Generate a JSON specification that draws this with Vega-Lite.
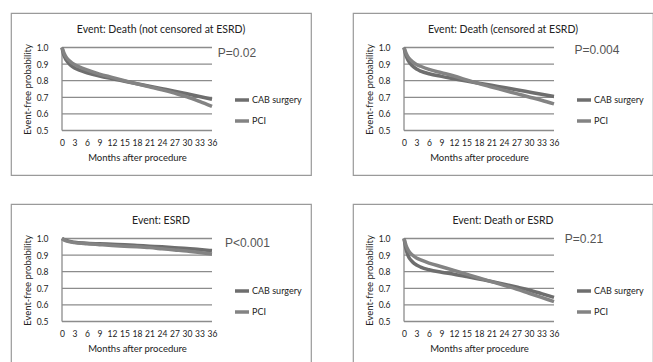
{
  "$schema": "https://vega.github.io/schema/vega-lite/v6.json",
  "background": "white",
  "padding": {"left": 10, "top": 12, "right": 0, "bottom": 0},
  "columns": 2,
  "spacing": {"row": 27, "column": 40},
  "resolve": {"scale": {"color": "independent"}, "legend": {"color": "independent"}},
  "datasets": {
    "grid": [{"v": 0.5}, {"v": 0.6}, {"v": 0.7}, {"v": 0.8}, {"v": 0.9}, {"v": 1.0}],
    "one": [{}],
    "km": [
      {"panel": "a", "group": "CAB surgery", "month": 0, "p": 1.0},
      {"panel": "a", "group": "CAB surgery", "month": 0.5, "p": 0.95},
      {"panel": "a", "group": "CAB surgery", "month": 1, "p": 0.925},
      {"panel": "a", "group": "CAB surgery", "month": 2, "p": 0.895},
      {"panel": "a", "group": "CAB surgery", "month": 3, "p": 0.877},
      {"panel": "a", "group": "CAB surgery", "month": 4, "p": 0.865},
      {"panel": "a", "group": "CAB surgery", "month": 6, "p": 0.848},
      {"panel": "a", "group": "CAB surgery", "month": 9, "p": 0.828},
      {"panel": "a", "group": "CAB surgery", "month": 12, "p": 0.812},
      {"panel": "a", "group": "CAB surgery", "month": 15, "p": 0.797},
      {"panel": "a", "group": "CAB surgery", "month": 18, "p": 0.782},
      {"panel": "a", "group": "CAB surgery", "month": 21, "p": 0.767},
      {"panel": "a", "group": "CAB surgery", "month": 24, "p": 0.752},
      {"panel": "a", "group": "CAB surgery", "month": 27, "p": 0.737},
      {"panel": "a", "group": "CAB surgery", "month": 30, "p": 0.721},
      {"panel": "a", "group": "CAB surgery", "month": 33, "p": 0.705},
      {"panel": "a", "group": "CAB surgery", "month": 36, "p": 0.688},
      {"panel": "a", "group": "PCI", "month": 0, "p": 1.0},
      {"panel": "a", "group": "PCI", "month": 0.5, "p": 0.965},
      {"panel": "a", "group": "PCI", "month": 1, "p": 0.942},
      {"panel": "a", "group": "PCI", "month": 2, "p": 0.915},
      {"panel": "a", "group": "PCI", "month": 3, "p": 0.897},
      {"panel": "a", "group": "PCI", "month": 4, "p": 0.885},
      {"panel": "a", "group": "PCI", "month": 6, "p": 0.865},
      {"panel": "a", "group": "PCI", "month": 9, "p": 0.84},
      {"panel": "a", "group": "PCI", "month": 12, "p": 0.82},
      {"panel": "a", "group": "PCI", "month": 15, "p": 0.8},
      {"panel": "a", "group": "PCI", "month": 18, "p": 0.781},
      {"panel": "a", "group": "PCI", "month": 21, "p": 0.763},
      {"panel": "a", "group": "PCI", "month": 24, "p": 0.745},
      {"panel": "a", "group": "PCI", "month": 27, "p": 0.725},
      {"panel": "a", "group": "PCI", "month": 30, "p": 0.703},
      {"panel": "a", "group": "PCI", "month": 33, "p": 0.675},
      {"panel": "a", "group": "PCI", "month": 36, "p": 0.645},

      {"panel": "b", "group": "CAB surgery", "month": 0, "p": 1.0},
      {"panel": "b", "group": "CAB surgery", "month": 0.5, "p": 0.95},
      {"panel": "b", "group": "CAB surgery", "month": 1, "p": 0.922},
      {"panel": "b", "group": "CAB surgery", "month": 2, "p": 0.89},
      {"panel": "b", "group": "CAB surgery", "month": 3, "p": 0.87},
      {"panel": "b", "group": "CAB surgery", "month": 4, "p": 0.858},
      {"panel": "b", "group": "CAB surgery", "month": 6, "p": 0.842},
      {"panel": "b", "group": "CAB surgery", "month": 9, "p": 0.826},
      {"panel": "b", "group": "CAB surgery", "month": 12, "p": 0.812},
      {"panel": "b", "group": "CAB surgery", "month": 15, "p": 0.798},
      {"panel": "b", "group": "CAB surgery", "month": 18, "p": 0.785},
      {"panel": "b", "group": "CAB surgery", "month": 21, "p": 0.772},
      {"panel": "b", "group": "CAB surgery", "month": 24, "p": 0.759},
      {"panel": "b", "group": "CAB surgery", "month": 27, "p": 0.746},
      {"panel": "b", "group": "CAB surgery", "month": 30, "p": 0.732},
      {"panel": "b", "group": "CAB surgery", "month": 33, "p": 0.718},
      {"panel": "b", "group": "CAB surgery", "month": 36, "p": 0.705},
      {"panel": "b", "group": "PCI", "month": 0, "p": 1.0},
      {"panel": "b", "group": "PCI", "month": 0.5, "p": 0.965},
      {"panel": "b", "group": "PCI", "month": 1, "p": 0.942},
      {"panel": "b", "group": "PCI", "month": 2, "p": 0.915},
      {"panel": "b", "group": "PCI", "month": 3, "p": 0.898},
      {"panel": "b", "group": "PCI", "month": 4, "p": 0.887},
      {"panel": "b", "group": "PCI", "month": 6, "p": 0.868},
      {"panel": "b", "group": "PCI", "month": 9, "p": 0.848},
      {"panel": "b", "group": "PCI", "month": 12, "p": 0.828},
      {"panel": "b", "group": "PCI", "month": 15, "p": 0.805},
      {"panel": "b", "group": "PCI", "month": 18, "p": 0.782},
      {"panel": "b", "group": "PCI", "month": 21, "p": 0.762},
      {"panel": "b", "group": "PCI", "month": 24, "p": 0.742},
      {"panel": "b", "group": "PCI", "month": 27, "p": 0.722},
      {"panel": "b", "group": "PCI", "month": 30, "p": 0.702},
      {"panel": "b", "group": "PCI", "month": 33, "p": 0.682},
      {"panel": "b", "group": "PCI", "month": 36, "p": 0.66},

      {"panel": "c", "group": "CAB surgery", "month": 0, "p": 1.0},
      {"panel": "c", "group": "CAB surgery", "month": 1, "p": 0.988},
      {"panel": "c", "group": "CAB surgery", "month": 3, "p": 0.978},
      {"panel": "c", "group": "CAB surgery", "month": 6, "p": 0.972},
      {"panel": "c", "group": "CAB surgery", "month": 9, "p": 0.968},
      {"panel": "c", "group": "CAB surgery", "month": 12, "p": 0.965},
      {"panel": "c", "group": "CAB surgery", "month": 15, "p": 0.962},
      {"panel": "c", "group": "CAB surgery", "month": 18, "p": 0.958},
      {"panel": "c", "group": "CAB surgery", "month": 21, "p": 0.954},
      {"panel": "c", "group": "CAB surgery", "month": 24, "p": 0.95},
      {"panel": "c", "group": "CAB surgery", "month": 27, "p": 0.945},
      {"panel": "c", "group": "CAB surgery", "month": 30, "p": 0.94},
      {"panel": "c", "group": "CAB surgery", "month": 33, "p": 0.933},
      {"panel": "c", "group": "CAB surgery", "month": 36, "p": 0.927},
      {"panel": "c", "group": "PCI", "month": 0, "p": 1.0},
      {"panel": "c", "group": "PCI", "month": 1, "p": 0.985},
      {"panel": "c", "group": "PCI", "month": 3, "p": 0.975},
      {"panel": "c", "group": "PCI", "month": 6, "p": 0.968},
      {"panel": "c", "group": "PCI", "month": 9, "p": 0.963},
      {"panel": "c", "group": "PCI", "month": 12, "p": 0.958},
      {"panel": "c", "group": "PCI", "month": 15, "p": 0.954},
      {"panel": "c", "group": "PCI", "month": 18, "p": 0.95},
      {"panel": "c", "group": "PCI", "month": 21, "p": 0.945},
      {"panel": "c", "group": "PCI", "month": 24, "p": 0.938},
      {"panel": "c", "group": "PCI", "month": 27, "p": 0.931},
      {"panel": "c", "group": "PCI", "month": 30, "p": 0.924},
      {"panel": "c", "group": "PCI", "month": 33, "p": 0.915},
      {"panel": "c", "group": "PCI", "month": 36, "p": 0.906},

      {"panel": "d", "group": "CAB surgery", "month": 0, "p": 1.0},
      {"panel": "d", "group": "CAB surgery", "month": 0.5, "p": 0.935},
      {"panel": "d", "group": "CAB surgery", "month": 1, "p": 0.895},
      {"panel": "d", "group": "CAB surgery", "month": 2, "p": 0.86},
      {"panel": "d", "group": "CAB surgery", "month": 3, "p": 0.84},
      {"panel": "d", "group": "CAB surgery", "month": 4, "p": 0.828},
      {"panel": "d", "group": "CAB surgery", "month": 6, "p": 0.812},
      {"panel": "d", "group": "CAB surgery", "month": 9, "p": 0.797},
      {"panel": "d", "group": "CAB surgery", "month": 12, "p": 0.785},
      {"panel": "d", "group": "CAB surgery", "month": 15, "p": 0.771},
      {"panel": "d", "group": "CAB surgery", "month": 18, "p": 0.756},
      {"panel": "d", "group": "CAB surgery", "month": 21, "p": 0.741},
      {"panel": "d", "group": "CAB surgery", "month": 24, "p": 0.725},
      {"panel": "d", "group": "CAB surgery", "month": 27, "p": 0.708},
      {"panel": "d", "group": "CAB surgery", "month": 30, "p": 0.69},
      {"panel": "d", "group": "CAB surgery", "month": 33, "p": 0.668},
      {"panel": "d", "group": "CAB surgery", "month": 36, "p": 0.645},
      {"panel": "d", "group": "PCI", "month": 0, "p": 1.0},
      {"panel": "d", "group": "PCI", "month": 0.5, "p": 0.958},
      {"panel": "d", "group": "PCI", "month": 1, "p": 0.93},
      {"panel": "d", "group": "PCI", "month": 2, "p": 0.9},
      {"panel": "d", "group": "PCI", "month": 3, "p": 0.882},
      {"panel": "d", "group": "PCI", "month": 4, "p": 0.871},
      {"panel": "d", "group": "PCI", "month": 6, "p": 0.852},
      {"panel": "d", "group": "PCI", "month": 9, "p": 0.83},
      {"panel": "d", "group": "PCI", "month": 12, "p": 0.808},
      {"panel": "d", "group": "PCI", "month": 15, "p": 0.785},
      {"panel": "d", "group": "PCI", "month": 18, "p": 0.762},
      {"panel": "d", "group": "PCI", "month": 21, "p": 0.74},
      {"panel": "d", "group": "PCI", "month": 24, "p": 0.718},
      {"panel": "d", "group": "PCI", "month": 27, "p": 0.695},
      {"panel": "d", "group": "PCI", "month": 30, "p": 0.67},
      {"panel": "d", "group": "PCI", "month": 33, "p": 0.645},
      {"panel": "d", "group": "PCI", "month": 36, "p": 0.62}
    ]
  },
  "concat": [
    {
      "width": 300, "height": 162,
      "title": "Event: Death (not censored at ESRD)",
      "layer": [
        {
          "data": {"name": "grid"},
          "mark": {"type": "rule", "color": "#8c8c8c", "strokeWidth": 1.3},
          "encoding": {
            "y": {"field": "v", "type": "quantitative", "scale": {"domain": [0.2319, 1.2078], "nice": false, "zero": false},
                  "axis": {"title": "Event-free probability", "values": [0.5, 0.6, 0.7, 0.8, 0.9, 1.0], "tickCount": 20, "format": ".1f", "labelOverlap": false, "offset": -51, "titleY": 76}},
            "x": {"datum": 0, "type": "quantitative", "scale": {"domain": [-12.24, 59.76], "nice": false, "zero": false},
                  "axis": {"title": "Months after procedure", "values": [0, 3, 6, 9, 12, 15, 18, 21, 24, 27, 30, 33, 36], "tickCount": 30, "labelOverlap": false, "offset": -44.5, "titleX": 126}},
            "x2": {"datum": 36}
          }
        },
        {
          "data": {"name": "one"},
          "mark": {"type": "rule", "color": "#8c8c8c", "strokeWidth": 1.3},
          "encoding": {"x": {"datum": 0, "type": "quantitative"}, "y": {"datum": 0.5, "type": "quantitative"}, "y2": {"datum": 1.0}}
        },
        {
          "data": {"name": "km"},
          "transform": [{"filter": "datum.panel === 'a'"}],
          "mark": {"type": "line", "interpolate": "monotone", "strokeWidth": 3.5},
          "encoding": {
            "x": {"field": "month", "type": "quantitative"},
            "y": {"field": "p", "type": "quantitative"},
            "color": {"field": "group", "type": "nominal", "title": null,
                      "scale": {"domain": ["CAB surgery", "PCI"], "range": ["#6e6e6e", "#838383"]}}
          }
        },
        {
          "data": {"name": "one"},
          "mark": {"type": "text", "align": "left", "baseline": "middle", "font": "Liberation Sans", "fontSize": 12, "color": "#555555"},
          "encoding": {"x": {"datum": 37.4, "type": "quantitative"}, "y": {"datum": 0.964, "type": "quantitative"}, "text": {"value": "P=0.02"}}
        }
      ]
    },
    {
      "width": 300, "height": 162,
      "title": "Event: Death (censored at ESRD)",
      "layer": [
        {
          "data": {"name": "grid"},
          "mark": {"type": "rule", "color": "#8c8c8c", "strokeWidth": 1.3},
          "encoding": {
            "y": {"field": "v", "type": "quantitative", "scale": {"domain": [0.2319, 1.2078], "nice": false, "zero": false},
                  "axis": {"title": "Event-free probability", "values": [0.5, 0.6, 0.7, 0.8, 0.9, 1.0], "tickCount": 20, "format": ".1f", "labelOverlap": false, "offset": -51, "titleY": 76}},
            "x": {"datum": 0, "type": "quantitative", "scale": {"domain": [-12.24, 59.76], "nice": false, "zero": false},
                  "axis": {"title": "Months after procedure", "values": [0, 3, 6, 9, 12, 15, 18, 21, 24, 27, 30, 33, 36], "tickCount": 30, "labelOverlap": false, "offset": -44.5, "titleX": 126}},
            "x2": {"datum": 36}
          }
        },
        {
          "data": {"name": "one"},
          "mark": {"type": "rule", "color": "#8c8c8c", "strokeWidth": 1.3},
          "encoding": {"x": {"datum": 0, "type": "quantitative"}, "y": {"datum": 0.5, "type": "quantitative"}, "y2": {"datum": 1.0}}
        },
        {
          "data": {"name": "km"},
          "transform": [{"filter": "datum.panel === 'b'"}],
          "mark": {"type": "line", "interpolate": "monotone", "strokeWidth": 3.5},
          "encoding": {
            "x": {"field": "month", "type": "quantitative"},
            "y": {"field": "p", "type": "quantitative"},
            "color": {"field": "group", "type": "nominal", "title": null,
                      "scale": {"domain": ["CAB surgery", "PCI"], "range": ["#6e6e6e", "#838383"]}}
          }
        },
        {
          "data": {"name": "one"},
          "mark": {"type": "text", "align": "left", "baseline": "middle", "font": "Liberation Sans", "fontSize": 12, "color": "#555555"},
          "encoding": {"x": {"datum": 40.9, "type": "quantitative"}, "y": {"datum": 0.986, "type": "quantitative"}, "text": {"value": "P=0.004"}}
        }
      ]
    },
    {
      "width": 300, "height": 162,
      "title": "Event: ESRD",
      "layer": [
        {
          "data": {"name": "grid"},
          "mark": {"type": "rule", "color": "#8c8c8c", "strokeWidth": 1.3},
          "encoding": {
            "y": {"field": "v", "type": "quantitative", "scale": {"domain": [0.2319, 1.2078], "nice": false, "zero": false},
                  "axis": {"title": "Event-free probability", "values": [0.5, 0.6, 0.7, 0.8, 0.9, 1.0], "tickCount": 20, "format": ".1f", "labelOverlap": false, "offset": -51, "titleY": 76}},
            "x": {"datum": 0, "type": "quantitative", "scale": {"domain": [-12.24, 59.76], "nice": false, "zero": false},
                  "axis": {"title": "Months after procedure", "values": [0, 3, 6, 9, 12, 15, 18, 21, 24, 27, 30, 33, 36], "tickCount": 30, "labelOverlap": false, "offset": -44.5, "titleX": 126}},
            "x2": {"datum": 36}
          }
        },
        {
          "data": {"name": "one"},
          "mark": {"type": "rule", "color": "#8c8c8c", "strokeWidth": 1.3},
          "encoding": {"x": {"datum": 0, "type": "quantitative"}, "y": {"datum": 0.5, "type": "quantitative"}, "y2": {"datum": 1.0}}
        },
        {
          "data": {"name": "km"},
          "transform": [{"filter": "datum.panel === 'c'"}],
          "mark": {"type": "line", "interpolate": "monotone", "strokeWidth": 3.5},
          "encoding": {
            "x": {"field": "month", "type": "quantitative"},
            "y": {"field": "p", "type": "quantitative"},
            "color": {"field": "group", "type": "nominal", "title": null,
                      "scale": {"domain": ["CAB surgery", "PCI"], "range": ["#6e6e6e", "#838383"]}}
          }
        },
        {
          "data": {"name": "one"},
          "mark": {"type": "text", "align": "left", "baseline": "middle", "font": "Liberation Sans", "fontSize": 12, "color": "#555555"},
          "encoding": {"x": {"datum": 39.1, "type": "quantitative"}, "y": {"datum": 0.974, "type": "quantitative"}, "text": {"value": "P<0.001"}}
        }
      ]
    },
    {
      "width": 300, "height": 162,
      "title": "Event: Death or ESRD",
      "layer": [
        {
          "data": {"name": "grid"},
          "mark": {"type": "rule", "color": "#8c8c8c", "strokeWidth": 1.3},
          "encoding": {
            "y": {"field": "v", "type": "quantitative", "scale": {"domain": [0.2319, 1.2078], "nice": false, "zero": false},
                  "axis": {"title": "Event-free probability", "values": [0.5, 0.6, 0.7, 0.8, 0.9, 1.0], "tickCount": 20, "format": ".1f", "labelOverlap": false, "offset": -51, "titleY": 76}},
            "x": {"datum": 0, "type": "quantitative", "scale": {"domain": [-12.24, 59.76], "nice": false, "zero": false},
                  "axis": {"title": "Months after procedure", "values": [0, 3, 6, 9, 12, 15, 18, 21, 24, 27, 30, 33, 36], "tickCount": 30, "labelOverlap": false, "offset": -44.5, "titleX": 126}},
            "x2": {"datum": 36}
          }
        },
        {
          "data": {"name": "one"},
          "mark": {"type": "rule", "color": "#8c8c8c", "strokeWidth": 1.3},
          "encoding": {"x": {"datum": 0, "type": "quantitative"}, "y": {"datum": 0.5, "type": "quantitative"}, "y2": {"datum": 1.0}}
        },
        {
          "data": {"name": "km"},
          "transform": [{"filter": "datum.panel === 'd'"}],
          "mark": {"type": "line", "interpolate": "monotone", "strokeWidth": 3.5},
          "encoding": {
            "x": {"field": "month", "type": "quantitative"},
            "y": {"field": "p", "type": "quantitative"},
            "color": {"field": "group", "type": "nominal", "title": null,
                      "scale": {"domain": ["CAB surgery", "PCI"], "range": ["#6e6e6e", "#838383"]}}
          }
        },
        {
          "data": {"name": "one"},
          "mark": {"type": "text", "align": "left", "baseline": "middle", "font": "Liberation Sans", "fontSize": 12, "color": "#555555"},
          "encoding": {"x": {"datum": 38.6, "type": "quantitative"}, "y": {"datum": 0.997, "type": "quantitative"}, "text": {"value": "P=0.21"}}
        }
      ]
    }
  ],
  "config": {
    "font": "Lato",
    "view": {"stroke": "#9a9a9a", "strokeWidth": 1.2},
    "title": {"font": "Lato", "fontSize": 10.5, "fontWeight": "normal", "color": "#222222", "anchor": "middle", "frame": "group", "baseline": "middle", "offset": -22},
    "axis": {
      "domain": false, "ticks": false, "grid": false,
      "labelFont": "Lato", "labelFontSize": 8.5, "labelColor": "#222222", "labelOverlap": false, "labelFlush": false,
      "titleFont": "Lato", "titleFontSize": 9.5, "titleFontWeight": "normal", "titleColor": "#222222"
    },
    "axisX": {"labelPadding": 8, "titlePadding": 5},
    "axisY": {"labelPadding": 14, "titlePadding": 4},
    "legend": {
      "orient": "none", "legendX": 222, "legendY": 78, "padding": 0,
      "symbolType": "stroke", "symbolSize": 196, "symbolStrokeWidth": 3.5,
      "labelFont": "Lato", "labelFontSize": 9, "labelColor": "#222222", "labelOffset": 1, "rowPadding": 5
    }
  }
}
